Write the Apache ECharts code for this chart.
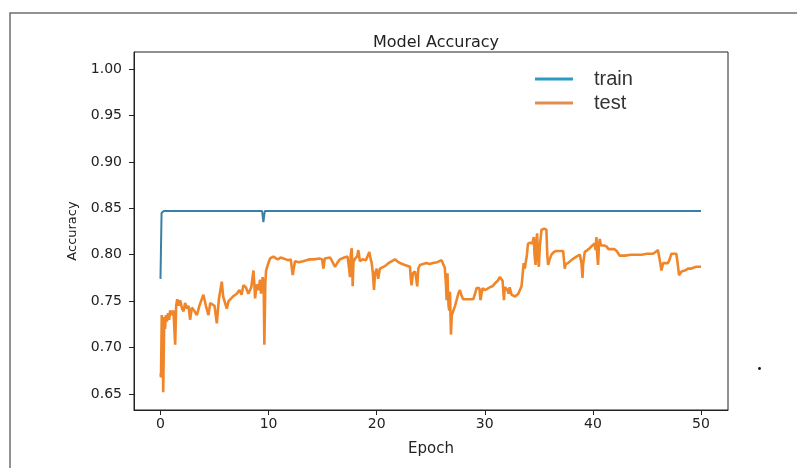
<!DOCTYPE html>
<html>
<head>
<meta charset="utf-8">
<script src="https://cdn.jsdelivr.net/npm/echarts@6/dist/echarts.min.js"></script>
<style>
html,body{margin:0;padding:0;background:#fff;}
#chart{width:797px;height:468px;}
</style>
</head>
<body>
<div id="chart"></div>
<script>
const titleText = 'Model Accuracy';
const xName = 'Epoch';
const yName = 'Accuracy';
const seriesNames = ['train', 'test'];
const xTicks = [0, 10, 20, 30, 40, 50];
const yTicks = [0.65, 0.70, 0.75, 0.80, 0.85, 0.90, 0.95, 1.00];

const trainEpoch = [0.0, 0.04, 0.1, 0.3, 1.0, 5.0, 9.4, 9.52, 9.65, 12.0, 17.4, 17.5, 17.6, 26.6, 26.7, 26.8, 34.0, 40.0, 50.0];
const trainAcc   = [0.774, 0.774, 0.845, 0.847, 0.847, 0.847, 0.847, 0.835, 0.847, 0.847, 0.847, 0.8455, 0.847, 0.847, 0.846, 0.847, 0.847, 0.847, 0.847];

const testEpoch = [0.0,0.05,0.12,0.2,0.25,0.3,0.35,0.42,0.5,0.6,0.7,0.8,0.9,1.05,1.2,1.36,1.45,1.55,1.7,1.82,2.0,2.13,2.28,2.45,2.6,2.74,2.9,3.1,3.36,3.6,3.97,4.2,4.44,4.6,4.74,5.0,5.21,5.4,5.67,5.8,6.13,6.3,6.43,6.7,7.06,7.3,7.5,7.67,7.9,8.13,8.4,8.6,8.7,8.75,8.9,9.06,9.21,9.3,9.45,9.55,9.61,9.7,9.77,9.95,10.14,10.3,10.44,10.7,10.9,11.1,11.37,11.6,11.83,12.05,12.23,12.44,12.8,13.2,13.5,13.82,14.2,14.7,14.95,15.07,15.2,15.37,15.7,16.15,16.4,16.6,17.0,17.3,17.38,17.45,17.53,17.6,17.69,17.74,17.78,17.85,18.0,18.2,18.3,18.45,18.7,19.0,19.32,19.45,19.54,19.65,19.75,19.85,20.0,20.14,20.3,20.46,20.8,21.1,21.4,21.69,21.9,22.15,22.6,23.08,23.15,23.23,23.35,23.54,23.65,23.75,23.85,24.0,24.3,24.6,24.9,25.2,25.6,26.0,26.15,26.3,26.4,26.47,26.55,26.6,26.65,26.71,26.78,26.87,26.95,27.08,27.25,27.39,27.55,27.7,27.85,28.0,28.4,28.93,29.1,29.24,29.4,29.5,29.6,29.7,29.8,30.0,30.2,30.47,30.7,30.93,31.2,31.4,31.55,31.65,31.77,31.85,31.95,32.1,32.2,32.3,32.47,32.8,33.1,33.25,33.4,33.6,33.7,33.8,33.9,34.0,34.2,34.4,34.54,34.6,34.7,34.78,34.84,34.92,35.0,35.1,35.25,35.5,35.7,35.78,35.86,36.0,36.17,36.4,36.6,36.9,37.25,37.32,37.4,37.5,37.7,38.1,38.48,38.8,38.95,39.04,39.1,39.25,39.5,39.7,39.95,40.17,40.25,40.33,40.4,40.48,40.56,40.64,40.75,40.88,41.05,41.25,41.45,41.7,42.0,42.2,42.49,43.0,43.5,44.0,44.5,45.0,45.56,45.8,46.02,46.15,46.25,46.34,46.5,46.7,46.95,47.1,47.26,47.5,47.72,47.85,47.97,48.1,48.2,48.5,48.8,49.1,49.3,49.56,50.0];
const testAcc = [0.672,0.668,0.735,0.72,0.652,0.651,0.733,0.72,0.735,0.728,0.737,0.73,0.740,0.735,0.74,0.703,0.745,0.752,0.745,0.751,0.742,0.739,0.748,0.742,0.745,0.730,0.743,0.74,0.735,0.745,0.757,0.745,0.735,0.748,0.748,0.745,0.726,0.752,0.771,0.755,0.742,0.75,0.752,0.755,0.758,0.762,0.757,0.767,0.765,0.758,0.765,0.783,0.765,0.753,0.768,0.762,0.773,0.758,0.776,0.765,0.703,0.77,0.783,0.79,0.796,0.797,0.798,0.796,0.795,0.797,0.796,0.795,0.794,0.795,0.778,0.793,0.792,0.793,0.794,0.795,0.795,0.796,0.795,0.785,0.796,0.798,0.797,0.787,0.792,0.795,0.797,0.798,0.800,0.785,0.776,0.8,0.807,0.79,0.766,0.792,0.796,0.798,0.805,0.793,0.795,0.794,0.803,0.795,0.791,0.78,0.762,0.78,0.785,0.774,0.785,0.783,0.788,0.791,0.793,0.795,0.793,0.791,0.789,0.787,0.775,0.767,0.78,0.782,0.775,0.766,0.785,0.789,0.79,0.791,0.79,0.791,0.792,0.794,0.792,0.786,0.770,0.751,0.78,0.760,0.745,0.740,0.76,0.714,0.735,0.737,0.745,0.751,0.758,0.762,0.756,0.752,0.752,0.752,0.758,0.764,0.762,0.764,0.751,0.758,0.764,0.762,0.763,0.765,0.766,0.769,0.772,0.776,0.775,0.772,0.751,0.765,0.765,0.762,0.758,0.765,0.757,0.755,0.758,0.76,0.766,0.791,0.785,0.783,0.8,0.812,0.813,0.812,0.819,0.80,0.789,0.815,0.823,0.80,0.787,0.81,0.827,0.828,0.827,0.80,0.789,0.795,0.800,0.803,0.804,0.804,0.804,0.795,0.785,0.79,0.791,0.795,0.798,0.8,0.79,0.775,0.79,0.803,0.805,0.807,0.81,0.812,0.805,0.819,0.80,0.789,0.81,0.817,0.81,0.809,0.81,0.809,0.806,0.806,0.806,0.804,0.799,0.799,0.8,0.800,0.8,0.801,0.801,0.803,0.805,0.804,0.79,0.783,0.791,0.791,0.791,0.795,0.801,0.801,0.801,0.79,0.778,0.78,0.782,0.783,0.785,0.785,0.786,0.787,0.787];

const zip = (xs, ys) => xs.map((x, i) => [x, ys[i]]);

const chart = echarts.init(document.getElementById('chart'), null, {renderer: 'canvas'});
const tickFont = {fontFamily: 'DejaVu Sans', fontSize: 14, color: '#222'};

chart.setOption({
  animation: false,
  backgroundColor: '#fff',
  title: {
    text: titleText,
    left: 431, top: 30, textAlign: 'center',
    textStyle: {fontFamily: 'DejaVu Sans', fontSize: 16, fontWeight: 'normal', color: '#222'}
  },
  legend: {
    orient: 'vertical',
    left: 535, top: 69, padding: 0,
    itemWidth: 38, itemHeight: 3, itemGap: 4,
    icon: 'rect',
    textStyle: {fontFamily: 'Liberation Sans', fontSize: 20, color: '#333', padding: [0, 0, 0, 16]},
    data: [
      {name: seriesNames[0], itemStyle: {color: '#2b9cc6'}},
      {name: seriesNames[1], itemStyle: {color: '#e08d52'}}
    ]
  },
  grid: {
    left: 134, top: 52, right: 69, bottom: 58,
    show: true, borderColor: '#222', borderWidth: 1, backgroundColor: 'transparent'
  },
  xAxis: {
    type: 'value', min: -2.45, max: 52.5,
    name: xName, nameLocation: 'middle', nameGap: 32,
    nameTextStyle: {fontFamily: 'DejaVu Sans', fontSize: 15, color: '#222'},
    axisLine: {show: true, onZero: false, lineStyle: {color: '#222', width: 1}},
    splitLine: {show: false},
    axisTick: {show: true, inside: false, length: 5, customValues: xTicks, lineStyle: {color: '#222', width: 1}},
    axisLabel: Object.assign({margin: 7, customValues: xTicks}, tickFont)
  },
  yAxis: {
    type: 'value', min: 0.6328, max: 1.0183,
    name: yName, nameLocation: 'middle', nameGap: 55, nameRotate: 90,
    nameTextStyle: {fontFamily: 'DejaVu Sans', fontSize: 13, color: '#222'},
    axisLine: {show: true, onZero: false, lineStyle: {color: '#222', width: 1}},
    splitLine: {show: false},
    axisTick: {show: true, inside: false, length: 5, customValues: yTicks, lineStyle: {color: '#222', width: 1}},
    axisLabel: Object.assign({margin: 12, customValues: yTicks, formatter: v => v.toFixed(2)}, tickFont)
  },
  series: [
    {
      name: seriesNames[0], type: 'line', symbol: 'none',
      data: zip(trainEpoch, trainAcc),
      lineStyle: {color: '#3a80a6', width: 2},
      itemStyle: {color: '#3a80a6'}
    },
    {
      name: seriesNames[1], type: 'line', symbol: 'none',
      data: zip(testEpoch, testAcc),
      lineStyle: {color: '#f0862a', width: 2.6},
      itemStyle: {color: '#f0862a'}
    }
  ],
  graphic: [
    {type: 'rect', silent: true, shape: {x: 10, y: 13, width: 800, height: 480},
     style: {fill: 'none', stroke: '#6f6f6f', lineWidth: 1.5}},
    {type: 'circle', silent: true, shape: {cx: 759.5, cy: 368.5, r: 1.4},
     style: {fill: '#111'}}
  ]
});
</script>
</body>
</html>
